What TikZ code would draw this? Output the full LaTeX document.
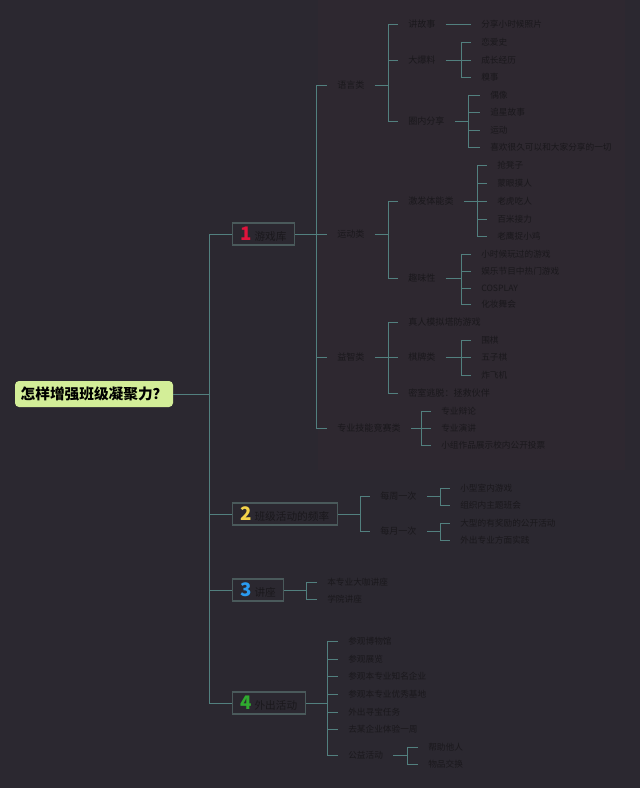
\documentclass[tikz,border=0pt]{standalone}
\usepackage{fontspec}
\setmainfont{Noto Sans CJK SC}
\usetikzlibrary{positioning}
\definecolor{bgcol}{HTML}{2B2830}
\definecolor{panelcol}{HTML}{2E2830}
\definecolor{linecol}{HTML}{52807F}
\definecolor{textcol}{HTML}{1A181C}
\definecolor{rootcol}{HTML}{D3EE98}
\definecolor{boxline}{HTML}{4A5A5B}
\definecolor{numred}{HTML}{E0143C}
\definecolor{numyellow}{HTML}{F3D34A}
\definecolor{numblue}{HTML}{2A9BF0}
\definecolor{numgreen}{HTML}{2FAA2F}
\tikzset{
  branch/.style={draw=linecol, line width=0.7pt},
  rootbox/.style={fill=rootcol, rounded corners=3pt, text=black, inner sep=0pt,
    minimum width=118.5pt, minimum height=19.5pt, font=\fontsize{11}{12}\selectfont\bfseries},
  topicbox/.style={draw=boxline, fill=bgcol, line width=0.8pt, anchor=west, text=textcol,
    inner xsep=6pt, inner ysep=0pt, minimum height=16.5pt, font=\fontsize{8}{9}\selectfont},
  subnode/.style={anchor=west, xshift=-6pt, text=textcol, inner xsep=7.5pt, inner ysep=1.5pt,
    font=\fontsize{6.8}{7.5}\selectfont},
  leafnode/.style={anchor=west, xshift=-6pt, text=textcol, inner xsep=7.5pt, inner ysep=1.5pt,
    font=\fontsize{6.5}{7}\selectfont}
}
\newcommand{\topnum}[2]{{\color{#1}\fontsize{14}{14}\selectfont\bfseries #2}\hspace{2pt}}
\begin{document}
\begin{tikzpicture}[x=0.75pt,y=-0.75pt]

\fill[bgcol] (0,0) rectangle (640,788);
\fill[panelcol] (318,0) rectangle (625,470);

% root
\node[rootbox] (root) at (94,394) {怎样增强班级凝聚力？};
\coordinate (t0) at (209,394);

% main topics
\node[topicbox] (g1) at (232,234) {\topnum{numred}{1}游戏库};
\node[topicbox] (g2) at (232,514) {\topnum{numyellow}{2}班级活动的频率};
\node[topicbox] (g3) at (232,590) {\topnum{numblue}{3}讲座};
\node[topicbox] (g4) at (232,703) {\topnum{numgreen}{4}外出活动};

\draw[branch] (root.east) -- (t0);
\draw[branch] (t0) |- (g1.west);
\draw[branch] (t0) |- (g2.west);
\draw[branch] (t0) |- (g3.west);
\draw[branch] (t0) |- (g4.west);

% 1 游戏库
\coordinate (j1) at (316,234);
\node[subnode] (yuyan) at (335,85) {语言类};
\node[subnode] (yundong) at (335,234) {运动类};
\node[subnode] (yizhi) at (335,357) {益智类};
\node[subnode] (zhuanye) at (335,428) {专业技能竞赛类};
\draw[branch] (g1.east) -- (j1);
\draw[branch] (j1) |- (yuyan.west);
\draw[branch] (j1) |- (yundong.west);
\draw[branch] (j1) |- (yizhi.west);
\draw[branch] (j1) |- (zhuanye.west);

% 语言类
\coordinate (jyy) at (388,85);
\node[subnode] (jianggushi) at (406,24) {讲故事};
\node[subnode] (dabaoliao) at (406,60) {大爆料};
\node[subnode] (quannei) at (406,121) {圈内分享};
\draw[branch] (yuyan.east) -- (jyy);
\draw[branch] (jyy) |- (jianggushi.west);
\draw[branch] (jyy) |- (dabaoliao.west);
\draw[branch] (jyy) |- (quannei.west);

\node[leafnode] (zhaopian) at (479,24) {分享小时候照片};
\draw[branch] (jianggushi.east) -- (zhaopian.west);

\coordinate (jdb) at (461,60);
\node[leafnode] (lianai) at (479,42) {恋爱史};
\node[leafnode] (chengzhang) at (479,60) {成长经历};
\node[leafnode] (qiushi) at (479,77) {糗事};
\draw[branch] (dabaoliao.east) -- (jdb);
\draw[branch] (jdb) |- (lianai.west);
\draw[branch] (jdb) |- (chengzhang.west);
\draw[branch] (jdb) |- (qiushi.west);

\coordinate (jqn) at (468,121);
\node[leafnode] (ouxiang) at (488,95) {偶像};
\node[leafnode] (zhuixing) at (488,112) {追星故事};
\node[leafnode] (yundongq) at (488,130) {运动};
\node[leafnode] (xihuan) at (488,147) {喜欢很久可以和大家分享的一切};
\draw[branch] (quannei.east) -- (jqn);
\draw[branch] (jqn) |- (ouxiang.west);
\draw[branch] (jqn) |- (zhuixing.west);
\draw[branch] (jqn) |- (yundongq.west);
\draw[branch] (jqn) |- (xihuan.west);

% 运动类
\coordinate (jyd) at (388,234);
\node[subnode] (jifa) at (406,201) {激发体能类};
\node[subnode] (quwei) at (406,278) {趣味性};
\draw[branch] (yundong.east) -- (jyd);
\draw[branch] (jyd) |- (jifa.west);
\draw[branch] (jyd) |- (quwei.west);

\coordinate (jjf) at (477,201);
\node[leafnode] (qiangdeng) at (495,165) {抢凳子};
\node[leafnode] (mengyan) at (495,183) {蒙眼摸人};
\node[leafnode] (laohu) at (495,201) {老虎吃人};
\node[leafnode] (baimi) at (495,219) {百米接力};
\node[leafnode] (laoying) at (495,236) {老鹰捉小鸡};
\draw[branch] (jifa.east) -- (jjf);
\draw[branch] (jjf) |- (qiangdeng.west);
\draw[branch] (jjf) |- (mengyan.west);
\draw[branch] (jjf) |- (laohu.west);
\draw[branch] (jjf) |- (baimi.west);
\draw[branch] (jjf) |- (laoying.west);

\coordinate (jqw) at (461,278);
\node[leafnode] (xiaoshihou) at (479,254) {小时候玩过的游戏};
\node[leafnode] (yule) at (479,271) {娱乐节目中热门游戏};
\node[leafnode] (cosplay) at (479,288) {COSPLAY};
\node[leafnode] (huazhuang) at (479,304) {化妆舞会};
\draw[branch] (quwei.east) -- (jqw);
\draw[branch] (jqw) |- (xiaoshihou.west);
\draw[branch] (jqw) |- (yule.west);
\draw[branch] (jqw) |- (cosplay.west);
\draw[branch] (jqw) |- (huazhuang.west);

% 益智类
\coordinate (jyz) at (388,357);
\node[subnode] (zhenren) at (406,322) {真人模拟塔防游戏};
\node[subnode] (qipai) at (406,357) {棋牌类};
\node[subnode] (mishi) at (406,393) {密室逃脱：拯救伙伴};
\draw[branch] (yizhi.east) -- (jyz);
\draw[branch] (jyz) |- (zhenren.west);
\draw[branch] (jyz) |- (qipai.west);
\draw[branch] (jyz) |- (mishi.west);

\coordinate (jqp) at (461,357);
\node[leafnode] (weiqi) at (479,340) {围棋};
\node[leafnode] (wuziqi) at (479,357) {五子棋};
\node[leafnode] (feiji) at (479,375) {炸飞机};
\draw[branch] (qipai.east) -- (jqp);
\draw[branch] (jqp) |- (weiqi.west);
\draw[branch] (jqp) |- (wuziqi.west);
\draw[branch] (jqp) |- (feiji.west);

% 专业技能竞赛类
\coordinate (jzy) at (421,428);
\node[leafnode] (bianlun) at (439,411) {专业辩论};
\node[leafnode] (yanjiang) at (439,428) {专业演讲};
\node[leafnode] (zuopin) at (439,445) {小组作品展示校内公开投票};
\draw[branch] (zhuanye.east) -- (jzy);
\draw[branch] (jzy) |- (bianlun.west);
\draw[branch] (jzy) |- (yanjiang.west);
\draw[branch] (jzy) |- (zuopin.west);

% 2 班级活动的频率
\coordinate (j2) at (360,514);
\node[subnode] (meizhou) at (378,496) {每周一次};
\node[subnode] (meiyue) at (378,531) {每月一次};
\draw[branch] (g2.east) -- (j2);
\draw[branch] (j2) |- (meizhou.west);
\draw[branch] (j2) |- (meiyue.west);

\coordinate (jmz) at (440,496);
\node[leafnode] (xiaoxing) at (458,488) {小型室内游戏};
\node[leafnode] (zhuti) at (458,505) {组织内主题班会};
\draw[branch] (meizhou.east) -- (jmz);
\draw[branch] (jmz) |- (xiaoxing.west);
\draw[branch] (jmz) |- (zhuti.west);

\coordinate (jmy) at (440,531);
\node[leafnode] (daxing) at (458,523) {大型的有奖励的公开活动};
\node[leafnode] (shijian) at (458,540) {外出专业方面实践};
\draw[branch] (meiyue.east) -- (jmy);
\draw[branch] (jmy) |- (daxing.west);
\draw[branch] (jmy) |- (shijian.west);

% 3 讲座
\coordinate (j3) at (306,590);
\node[leafnode] (daka) at (325,582) {本专业大咖讲座};
\node[leafnode] (xueyuan) at (325,599) {学院讲座};
\draw[branch] (g3.east) -- (j3);
\draw[branch] (j3) |- (daka.west);
\draw[branch] (j3) |- (xueyuan.west);

% 4 外出活动
\coordinate (j4) at (327,703);
\node[leafnode] (bowuguan) at (346,641) {参观博物馆};
\node[leafnode] (zhanlan) at (346,659) {参观展览};
\node[leafnode] (qiye) at (346,676) {参观本专业知名企业};
\node[leafnode] (jidi) at (346,694) {参观本专业优秀基地};
\node[leafnode] (xunbao) at (346,712) {外出寻宝任务};
\node[leafnode] (tiyan) at (346,729) {去某企业体验一周};
\node[leafnode] (gongyi) at (346,755) {公益活动};
\draw[branch] (g4.east) -- (j4);
\draw[branch] (j4) |- (bowuguan.west);
\draw[branch] (j4) |- (zhanlan.west);
\draw[branch] (j4) |- (qiye.west);
\draw[branch] (j4) |- (jidi.west);
\draw[branch] (j4) |- (xunbao.west);
\draw[branch] (j4) |- (tiyan.west);
\draw[branch] (j4) |- (gongyi.west);

\coordinate (jgy) at (407,755);
\node[leafnode] (bangzhu) at (426,747) {帮助他人};
\node[leafnode] (jiaohuan) at (426,764) {物品交换};
\draw[branch] (gongyi.east) -- (jgy);
\draw[branch] (jgy) |- (bangzhu.west);
\draw[branch] (jgy) |- (jiaohuan.west);

\end{tikzpicture}
\end{document}
